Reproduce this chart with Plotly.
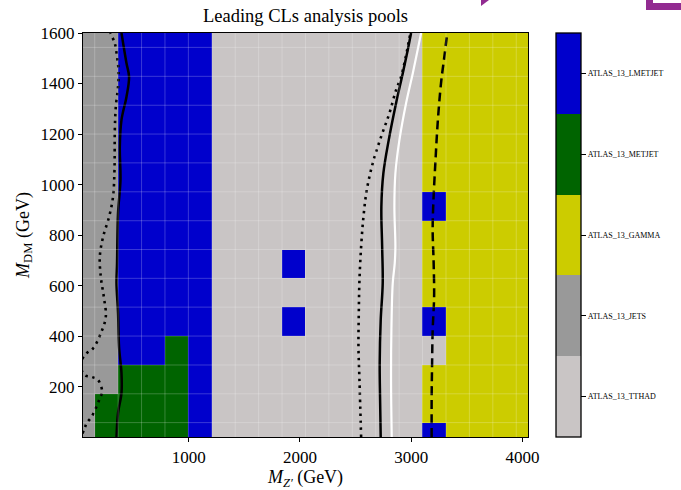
import plotly.graph_objects as go

# ---------------- data ----------------
mz_centres = [50, 260.5, 471, 681.5, 892, 1102.5, 1313, 1523.5, 1734, 1944.5,
              2155, 2365.5, 2576, 2786.5, 2997, 3207.5, 3418, 3628.5, 3839, 4049.5]
mdm_centres = [1, 115, 229, 343, 458, 572, 686, 800, 914, 1029, 1143, 1257, 1371, 1486, 1600]

pool_names = ["ATLAS_13_TTHAD", "ATLAS_13_JETS", "ATLAS_13_GAMMA", "ATLAS_13_METJET", "ATLAS_13_LMETJET"]
pool_codes = ["T", "J", "G", "M", "L"]
pool_colours = ["#c9c5c5", "#999999", "#cccc00", "#006400", "#0000cc"]

# leading pool per grid point, rows from lowest M_DM to highest
pool_rows = [
    "JMMMMLTTTTTTTTTLGGGG",
    "JMMMMLTTTTTTTTTGGGGG",
    "JJMMMLTTTTTTTTTGGGGG",
    "JJLLMLTTTTTTTTTTGGGG",
    "JJLLLLTTTLTTTTTLGGGG",
    "JJLLLLTTTTTTTTTGGGGG",
    "JJLLLLTTTLTTTTTGGGGG",
    "JJLLLLTTTTTTTTTGGGGG",
    "JJLLLLTTTTTTTTTLGGGG",
    "JJLLLLTTTTTTTTTGGGGG",
    "JJLLLLTTTTTTTTTGGGGG",
    "JJLLLLTTTTTTTTTGGGGG",
    "JJLLLLTTTTTTTTTGGGGG",
    "JJLLLLTTTTTTTTTGGGGG",
    "JJLLLLTTTTTTTTTGGGGG",
]

# contour lines (M_Z', M_DM)
obs_left_mz = [351, 365, 396, 396, 374, 365, 351, 356, 365, 387, 381, 396, 441, 464, 441, 396]
obs_left_mdm = [0, 96, 175, 254, 358, 493, 610, 690, 888, 1018, 1150, 1256, 1348, 1427, 1480, 1600]
obs_right_mz = [2726, 2720, 2717, 2726, 2744, 2739, 2732, 2750, 2798, 2864, 2924, 2969, 2999]
obs_right_mdm = [0, 161, 293, 464, 609, 754, 912, 1045, 1176, 1322, 1440, 1533, 1600]
white_mz = [2825, 2819, 2822, 2834, 2852, 2858, 2849, 2858, 2894, 2954, 3014, 3058, 3089]
white_mdm = [0, 227, 424, 609, 688, 754, 912, 1045, 1176, 1322, 1440, 1533, 1600]
dashed_mz = [3184, 3184, 3188, 3193, 3206, 3202, 3193, 3199, 3217, 3238, 3268, 3298, 3324]
dashed_mdm = [0, 161, 293, 424, 556, 688, 820, 926, 1084, 1243, 1401, 1506, 1600]
dot_right_mz = [2550, 2535, 2526, 2529, 2535, 2550, 2571, 2601, 2654, 2730, 2804, 2864, 2909, 2939, 2993]
dot_right_mdm = [0, 227, 358, 491, 622, 754, 873, 979, 1084, 1190, 1282, 1374, 1427, 1480, 1600]
dot_left_mz = [45, 64, 82, 127, 171, 201, 222, 186, 127, 66, 25, 82, 141, 216, 255, 237, 210, 201,
               231, 285, 320, 333, 336, 345, 365, 369, 356, 336, 295]
dot_left_mdm = [15, 35, 55, 81, 121, 154, 180, 226, 239, 246, 290, 332, 352, 418, 477, 556, 635, 715,
                794, 873, 952, 1058, 1216, 1308, 1387, 1454, 1506, 1559, 1600]

# ---------------- figure ----------------
code_index = {c: i for i, c in enumerate(pool_codes)}
z = [[code_index[c] for c in row] for row in pool_rows]

n = len(pool_names)
colorscale = []
for i, col in enumerate(pool_colours):
    colorscale.append([i / n, col])
    colorscale.append([(i + 1) / n, col])

SERIF = "Liberation Serif, DejaVu Serif, serif"

fig = go.Figure()
fig.add_trace(go.Heatmap(
    x=mz_centres, y=mdm_centres, z=z,
    zmin=-0.5, zmax=n - 0.5, colorscale=colorscale,
    hoverinfo="skip",
    colorbar=dict(
        tickvals=list(range(n)), ticktext=pool_names,
        x=(556 - 83) / 445, xanchor="left", xpad=0, ypad=0,
        y=0.5, yanchor="middle", len=1, lenmode="fraction",
        thickness=25, outlinewidth=1.3, outlinecolor="black",
        ticks="outside", ticklen=5, tickcolor="black", tickwidth=1.3,
        tickfont=dict(family=SERIF, size=8, color="black"),
    ),
))

# faint cell borders
x_edges = [(a + b) / 2 for a, b in zip(mz_centres[:-1], mz_centres[1:])]
y_edges = [(a + b) / 2 for a, b in zip(mdm_centres[:-1], mdm_centres[1:])]
for xe in x_edges:
    fig.add_shape(type="line", xref="x", yref="paper", x0=xe, x1=xe, y0=0, y1=1,
                  line=dict(color="rgba(255,255,255,0.22)", width=1), layer="above")
for ye in y_edges:
    fig.add_shape(type="line", xref="paper", yref="y", x0=0, x1=1, y0=ye, y1=ye,
                  line=dict(color="rgba(255,255,255,0.22)", width=1), layer="above")

def add_line(xs, ys, color, width, dash):
    fig.add_trace(go.Scatter(x=xs, y=ys, mode="lines", hoverinfo="skip", showlegend=False,
                             line=dict(color=color, width=width, dash=dash, shape="spline",
                                       smoothing=1.0)))

add_line(dot_left_mz, dot_left_mdm, "black", 2.6, "2.5px,4.5px")
add_line(dot_right_mz, dot_right_mdm, "black", 2.6, "2.5px,4.5px")
add_line(obs_left_mz, obs_left_mdm, "black", 2.5, "solid")
add_line(obs_right_mz, obs_right_mdm, "black", 2.5, "solid")
add_line(white_mz, white_mdm, "white", 2.2, "solid")
add_line(dashed_mz, dashed_mdm, "black", 2.5, "9px,5px")

# purple fragments at the top edge of the picture
purple = "#922b91"
fig.add_shape(type="path", xref="paper", yref="paper",
              path="M %f,%f L %f,%f L %f,%f Z" % ((481 - 83) / 445, (437 - 0) / 404,
                                                  (489 - 83) / 445, (437 - 0) / 404,
                                                  (481 - 83) / 445, (437 - 6) / 404),
              fillcolor=purple, line=dict(width=0))
fig.add_shape(type="path", xref="paper", yref="paper",
              path="M %f,%f L %f,%f L %f,%f L %f,%f L %f,%f L %f,%f Z" % (
                  (646 - 83) / 445, (437 - 0) / 404, (653 - 83) / 445, (437 - 0) / 404,
                  (653 - 83) / 445, (437 - 3) / 404, (681 - 83) / 445, (437 - 3) / 404,
                  (681 - 83) / 445, (437 - 10) / 404, (646 - 83) / 445, (437 - 10) / 404),
              fillcolor=purple, line=dict(width=0))

fig.update_layout(
    width=681, height=490,
    margin=dict(l=83, r=153, t=33, b=53, autoexpand=False),
    paper_bgcolor="white", plot_bgcolor="white",
    font=dict(family=SERIF, size=17, color="black"),
    title=dict(text="Leading CLs analysis pools", x=0.5, xref="paper", xanchor="center",
               y=1 - 16 / 490, yref="container", yanchor="middle",
               font=dict(family=SERIF, size=18.5, color="black")),
    showlegend=False,
)
fig.update_xaxes(
    range=[50, 4050], tickvals=[1000, 2000, 3000, 4000], automargin=False,
    ticks="outside", ticklen=4, tickcolor="black", tickwidth=1,
    showline=True, linecolor="black", linewidth=1.2, mirror=True,
    showgrid=False, zeroline=False,
    title=dict(text="<i>M</i><sub><i>Z′</i></sub> (GeV)", standoff=10,
               font=dict(family=SERIF, size=18)),
    tickfont=dict(family=SERIF, size=17),
)
fig.update_yaxes(
    range=[1, 1600], tickvals=[200, 400, 600, 800, 1000, 1200, 1400, 1600], automargin=False,
    ticks="outside", ticklen=4, tickcolor="black", tickwidth=1,
    showline=True, linecolor="black", linewidth=1.2, mirror=True,
    showgrid=False, zeroline=False,
    title=dict(text="<i>M</i><sub>DM</sub> (GeV)", standoff=6,
               font=dict(family=SERIF, size=18)),
    tickfont=dict(family=SERIF, size=17),
)

fig.write_html("out.html")
